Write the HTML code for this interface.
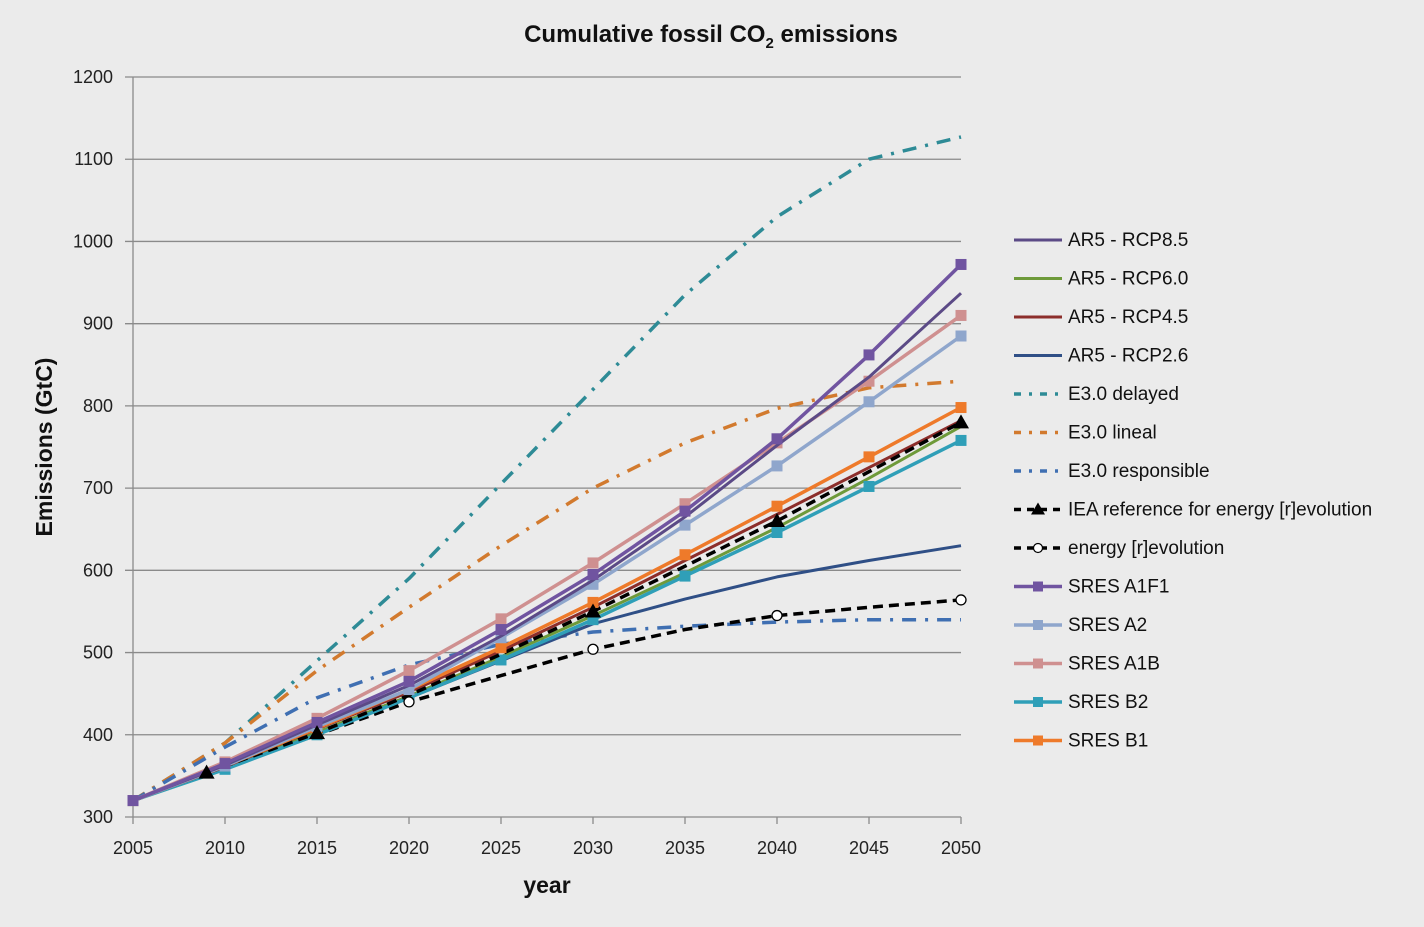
<!DOCTYPE html>
<html><head><meta charset="utf-8"><style>
html,body{margin:0;padding:0;background:#ebebeb;}
svg{display:block;font-family:"Liberation Sans",sans-serif;}
</style></head><body>
<svg id="c" width="1424" height="927" viewBox="0 0 1424 927">
<rect width="1424" height="927" fill="#ebebeb"/>
<text x="711" y="42" text-anchor="middle" font-size="24" font-weight="bold" fill="#111">Cumulative fossil CO<tspan font-size="15" dy="6">2</tspan><tspan dy="-6"> emissions</tspan></text>
<text transform="translate(52,447) rotate(-90)" text-anchor="middle" font-size="23" font-weight="bold" fill="#111">Emissions (GtC)</text>
<text x="547" y="893" text-anchor="middle" font-size="23" font-weight="bold" fill="#111">year</text>
<g id="grid"></g><g id="series"></g><g id="legend"></g>
</svg>
<script>
const years=[2005,2010,2015,2020,2025,2030,2035,2040,2045,2050];
const yTicks=[300,400,500,600,700,800,900,1000,1100,1200];
const rcp85=[320,363,412,460,520,588,665,752,835,937];
const rcp60=[320,359,403,447,495,545,597,652,712,775];
const rcp45=[320,361,407,452,502,555,612,668,725,782];
const rcp26=[320,360,402,445,490,535,565,592,612,630];
const e3Delayed=[320,390,490,590,705,820,935,1030,1100,1127];
const e3Lineal=[320,390,478,555,630,700,755,797,822,830];
const e3Resp=[320,385,445,485,510,525,532,537,540,540];
const ieaYears=[2005,2009,2015,2020,2025,2030,2035,2040,2045,2050];
const iea=[320,354,402,448,498,550,605,660,720,780];
const ieaMarkYears=[2009,2015,2030,2040,2050];
const ieaMarks=[354,402,550,660,780];
const erev=[320,360,400,440,472,504,528,545,555,564];
const erevMarkYears=[2020,2030,2040,2050];
const erevMarks=[440,504,545,564];
const a1f1=[320,365,415,465,528,595,672,760,862,972];
const a2=[320,362,410,455,518,583,655,727,805,885];
const a1b=[320,367,420,478,541,609,681,755,830,910];
const b2=[320,358,400,445,491,540,593,646,702,758];
const b1=[320,362,408,455,506,561,619,678,738,798];

const NS="http://www.w3.org/2000/svg";
const X=y=>133+(y-2005)*(828/45);
const Y=v=>817-(v-300)*(740/900);
function mk(tag,attrs,parent){const e=document.createElementNS(NS,tag);for(const k in attrs)e.setAttribute(k,attrs[k]);parent.appendChild(e);return e;}
const grid=document.getElementById('grid');
yTicks.forEach(v=>{
  const l=mk('line',{x1:125,x2:961,y1:Y(v),y2:Y(v),stroke:'#8a8a8a','stroke-width':1.3},grid);
  
  
  const t=mk('text',{x:113,y:Y(v)+6,'text-anchor':'end','font-size':18,fill:'#222'},grid);
  t.textContent=v;
  
  
});
const ax=mk('line',{x1:133,x2:133,y1:77,y2:817,stroke:'#8a8a8a','stroke-width':1.3},grid);


years.forEach(yr=>{
  const tk=mk('line',{x1:X(yr),x2:X(yr),y1:817,y2:824,stroke:'#8a8a8a','stroke-width':1.3},grid);
  
  
  const t=mk('text',{x:X(yr),y:854,'text-anchor':'middle','font-size':18,fill:'#222'},grid);
  t.textContent=yr;
  
  
});
const S=document.getElementById('series');
function line(name,xs,vs,color,w,dash){
  const d=xs.map((x,i)=>(i?'L':'M')+X(x).toFixed(1)+','+Y(vs[i]).toFixed(1)).join('');
  const p=mk('path',{d:d,fill:'none',stroke:color,'stroke-width':w,'stroke-linejoin':'round'},S);
  if(dash)p.setAttribute('stroke-dasharray',dash);
  
  
}
function squares(name,vs,color){
  years.forEach((yr,i)=>{
    const r=mk('rect',{x:X(yr)-5.5,y:Y(vs[i])-5.5,width:11,height:11,fill:color},S);
    
    
  });
}
const series=[
 ['AR5 - RCP8.5','#5b4a86',3,null,'none'],
 ['AR5 - RCP6.0','#6e9a3a',3,null,'none'],
 ['AR5 - RCP4.5','#8c2e2b',3,null,'none'],
 ['AR5 - RCP2.6','#2f4f86',3,null,'none'],
 ['E3.0 delayed','#2e8b96',3.5,'14 9 3 9','none'],
 ['E3.0 lineal','#d27a2e',3.5,'14 9 3 9','none'],
 ['E3.0 responsible','#3f6fb2',3.5,'14 9 3 9','none'],
 ['IEA reference for energy [r]evolution','#000',3.5,'10 6','tri'],
 ['energy [r]evolution','#000',3.5,'10 6','circ'],
 ['SRES A1F1','#7054a0',3.5,null,'sq'],
 ['SRES A2','#8fa6cc',3.5,null,'sq'],
 ['SRES A1B','#cf9090',3.5,null,'sq'],
 ['SRES B2','#2f9fb8',3.5,null,'sq'],
 ['SRES B1','#ee7a2a',3.5,null,'sq']
];
line('series-e3-delayed',years,e3Delayed,'#2e8b96',3.5,'14 9 3 9');
line('series-e3-lineal',years,e3Lineal,'#d27a2e',3.5,'14 9 3 9');
line('series-e3-responsible',years,e3Resp,'#3f6fb2',3.5,'14 9 3 9');
line('series-rcp26',years,rcp26,'#2f4f86',3);
line('series-erev',years,erev,'#000',3.5,'10 6');
line('series-rcp60',years,rcp60,'#6e9a3a',3);
line('series-b2',years,b2,'#2f9fb8',3.5);squares('sres-b2',b2,'#2f9fb8');
line('series-rcp45',years,rcp45,'#8c2e2b',3);
line('series-iea',ieaYears,iea,'#000',3.5,'10 6');
line('series-b1',years,b1,'#ee7a2a',3.5);squares('sres-b1',b1,'#ee7a2a');
line('series-a2',years,a2,'#8fa6cc',3.5);squares('sres-a2',a2,'#8fa6cc');
line('series-a1b',years,a1b,'#cf9090',3.5);squares('sres-a1b',a1b,'#cf9090');
line('series-rcp85',years,rcp85,'#5b4a86',3);
line('series-a1f1',years,a1f1,'#7054a0',3.5);squares('sres-a1f1',a1f1,'#7054a0');
ieaMarkYears.forEach((yr,i)=>{
  const x=X(yr),y=Y(ieaMarks[i]);
  const t=mk('polygon',{points:`${x},${y-8} ${x-8},${y+6} ${x+8},${y+6}`,fill:'#000'},S);
  
  
});
erevMarkYears.forEach((yr,i)=>{
  const c=mk('circle',{cx:X(yr),cy:Y(erevMarks[i]),r:5,fill:'#fff',stroke:'#000','stroke-width':1.3},S);
  
  
});
const L=document.getElementById('legend');
series.forEach((s,i)=>{
  const y=240+i*38.5;
  const g=mk('g',{},L);
  
  
  const ln=mk('line',{x1:1014,x2:1062,y1:y,y2:y,stroke:s[1],'stroke-width':s[2]},g);
  if(s[3])ln.setAttribute('stroke-dasharray',s[3]==='10 6'?'7 6':'7 8 3 8');
  if(s[4]==='sq')mk('rect',{x:1033,y:y-5,width:10,height:10,fill:s[1]},g);
  if(s[4]==='tri')mk('polygon',{points:`1038,${y-7} 1031,${y+5} 1045,${y+5}`,fill:'#000'},g);
  if(s[4]==='circ')mk('circle',{cx:1038,cy:y,r:4.5,fill:'#fff',stroke:'#000','stroke-width':1.2},g);
  const t=mk('text',{x:1068,y:y+6,'font-size':19,fill:'#111'},g);
  t.textContent=s[0];
});
</script>
</body></html>
